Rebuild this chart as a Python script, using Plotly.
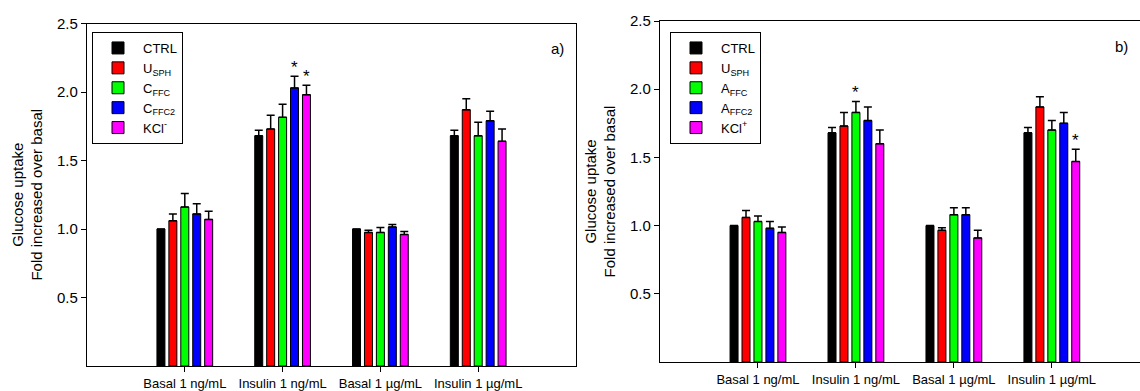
import plotly.graph_objects as go

categories = ["Basal 1 ng/mL", "Insulin 1 ng/mL", "Basal 1 µg/mL", "Insulin 1 µg/mL"]
y_ticks = [0.5, 1.0, 1.5, 2.0, 2.5]

# Panel a
names_a = ["CTRL", "U<sub>SPH</sub>", "C<sub>FFC</sub>", "C<sub>FFC2</sub>", "KCl<sup>-</sup>"]
ctrl_a = [1.00, 1.68, 1.00, 1.68]
ctrl_a_err = [0, 0.04, 0, 0.04]
usph_a = [1.06, 1.73, 0.975, 1.87]
usph_a_err = [0.05, 0.10, 0.015, 0.08]
cffc_a = [1.16, 1.815, 0.975, 1.68]
cffc_a_err = [0.10, 0.095, 0.036, 0.10]
cffc2_a = [1.11, 2.03, 1.015, 1.79]
cffc2_a_err = [0.075, 0.085, 0.017, 0.07]
kcl_a = [1.07, 1.98, 0.96, 1.64]
kcl_a_err = [0.06, 0.07, 0.022, 0.09]
sig_a = [[0, 0, 0, 0], [0, 0, 0, 0], [0, 0, 0, 0], [0, 1, 0, 0], [0, 1, 0, 0]]

# Panel b
names_b = ["CTRL", "U<sub>SPH</sub>", "A<sub>FFC</sub>", "A<sub>FFC2</sub>", "KCl<sup>+</sup>"]
ctrl_b = [1.00, 1.68, 1.00, 1.68]
ctrl_b_err = [0, 0.04, 0, 0.04]
usph_b = [1.06, 1.73, 0.965, 1.87]
usph_b_err = [0.05, 0.10, 0.02, 0.075]
affc_b = [1.03, 1.83, 1.08, 1.70]
affc_b_err = [0.04, 0.08, 0.05, 0.07]
affc2_b = [0.98, 1.77, 1.08, 1.75]
affc2_b_err = [0.05, 0.10, 0.05, 0.08]
kcl_b = [0.95, 1.60, 0.91, 1.47]
kcl_b_err = [0.04, 0.10, 0.055, 0.09]
sig_b = [[0, 0, 0, 0], [0, 0, 0, 0], [0, 1, 0, 0], [0, 0, 0, 0], [0, 0, 0, 1]]

colors = ["#000000", "#FF0000", "#00FF00", "#0000FF", "#FF00FF"]

FONT = "Liberation Sans, Arial, sans-serif"
BARGAP = 0.39
BARGROUPGAP = 0.33

fig = go.Figure()

panels = [
    dict(names=names_a, vals=[ctrl_a, usph_a, cffc_a, cffc2_a, kcl_a],
         errs=[ctrl_a_err, usph_a_err, cffc_a_err, cffc2_a_err, kcl_a_err],
         sig=sig_a, xa="x", ya="y", legend="legend"),
    dict(names=names_b, vals=[ctrl_b, usph_b, affc_b, affc2_b, kcl_b],
         errs=[ctrl_b_err, usph_b_err, affc_b_err, affc2_b_err, kcl_b_err],
         sig=sig_b, xa="x2", ya="y2", legend="legend2"),
]

xidx = list(range(len(categories)))
annotations = []
nser = 5
for p in panels:
    for i in range(nser):
        fig.add_trace(go.Bar(
            x=xidx, y=p["vals"][i], name=p["names"][i],
            marker=dict(color=colors[i], line=dict(color="black", width=1)),
            error_y=dict(type="data", array=p["errs"][i], arrayminus=[0] * len(categories),
                         symmetric=False, color="black", thickness=1.5, width=4),
            xaxis=p["xa"], yaxis=p["ya"], legend=p["legend"],
        ))
        slot = (1 - BARGAP) / nser
        for j, s in enumerate(p["sig"][i]):
            if s:
                annotations.append(dict(
                    x=j + (i - (nser - 1) / 2) * slot, y=p["vals"][i][j] + p["errs"][i][j],
                    xref=p["xa"], yref=p["ya"], text="*", showarrow=False,
                    yanchor="middle", yshift=9, font=dict(size=17, color="black", family=FONT)))

annotations.append(dict(x=566 / 1140, y=1 - 48 / 391, xref="paper", yref="paper", text="a)",
                        showarrow=False, xanchor="right", yanchor="middle",
                        font=dict(size=15, color="black", family=FONT)))
annotations.append(dict(x=1130 / 1140, y=1 - 47 / 391, xref="paper", yref="paper", text="b)",
                        showarrow=False, xanchor="right", yanchor="middle",
                        font=dict(size=15, color="black", family=FONT)))

axis_common = dict(showline=True, linecolor="black", linewidth=1.2, showgrid=False,
                   zeroline=False, ticks="outside", ticklen=5, tickcolor="black",
                   tickwidth=1.2, automargin=False)

ytitle = "Glucose uptake<br>Fold increased over basal"

legend_common = dict(xanchor="left", yanchor="top", bordercolor="black", borderwidth=1,
                     bgcolor="white", font=dict(size=13, family=FONT, color="black"),
                     tracegroupgap=0, itemwidth=40)

fig.update_layout(
    width=1140, height=391, autosize=False,
    margin=dict(l=0, r=0, t=0, b=0),
    paper_bgcolor="white", plot_bgcolor="white",
    barmode="group", bargap=BARGAP, bargroupgap=BARGROUPGAP,
    font=dict(family=FONT, color="black"),
    xaxis=dict(domain=[87 / 1140, 576 / 1140], range=[-1, 4], mirror=True,
               tickvals=xidx, ticktext=categories, tickfont=dict(size=13), anchor="y",
               **axis_common),
    yaxis=dict(domain=[(391 - 366) / 391, (391 - 23.5) / 391], range=[0, 2.5], mirror=True,
               tickvals=y_ticks, tickformat=".1f", tickfont=dict(size=15), anchor="x",
               title=dict(text=ytitle, font=dict(size=15), standoff=10),
               **axis_common),
    xaxis2=dict(domain=[660 / 1140, 1.0], range=[-1, 3.9], mirror=True,
                tickvals=xidx, ticktext=categories, tickfont=dict(size=13), anchor="y2",
                **axis_common),
    yaxis2=dict(domain=[(391 - 362) / 391, (391 - 21) / 391], range=[0, 2.5], mirror=False,
                tickvals=y_ticks, tickformat=".1f", tickfont=dict(size=15), anchor="x2",
                title=dict(text=ytitle, font=dict(size=15), standoff=10),
                **axis_common),
    legend=dict(x=92 / 1140, y=1 - 32 / 391, **legend_common),
    legend2=dict(x=670 / 1140, y=1 - 32 / 391, **legend_common),
    annotations=annotations,
)

fig.write_html(
    "out.html",
    config={"displayModeBar": False},
    post_script="document.body.style.margin='0';document.body.style.overflow='hidden';",
)
